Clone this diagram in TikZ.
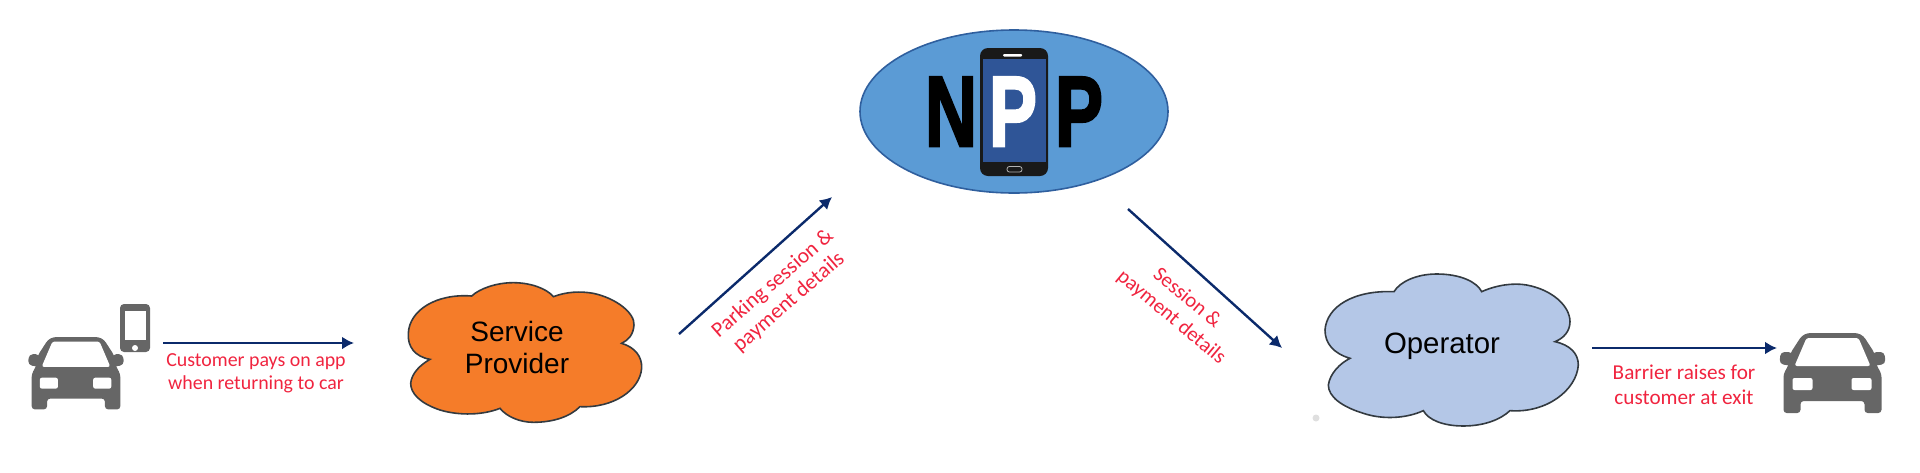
\documentclass[tikz,border=0pt]{standalone}
\usepackage{fontspec}
\setmainfont{Liberation Sans}
\newfontfamily\redfont{Carlito}
\newfontfamily\logofont[FakeBold=2.5]{Liberation Sans Bold}
\usetikzlibrary{arrows.meta,shapes.geometric}
\definecolor{navy}{HTML}{0B2A6B}
\definecolor{redtxt}{HTML}{F0243F}
\definecolor{cargray}{HTML}{666666}
\definecolor{ellfill}{HTML}{5B9BD5}
\definecolor{ellline}{HTML}{2F5F9E}
\definecolor{screenblue}{HTML}{2F5597}
\definecolor{orangefill}{HTML}{F57C29}
\definecolor{opfill}{HTML}{B4C7E7}
\definecolor{cloudline}{HTML}{333A40}
\tikzset{
  flow/.style={draw=navy,line width=1.2pt,-{Latex[length=6pt,width=6.5pt]}},
  redlabel/.style={text=redtxt,align=center,inner sep=0pt},
  cloudlabel/.style={text=black,align=center,inner sep=0pt},
  cloudedge/.style={draw=cloudline,line width=.8pt},
  logoletter/.style={inner sep=0pt,anchor=base,font=\logofont\fontsize{50}{52}\selectfont}
}
\newcommand{\redsize}[2]{\redfont\fontsize{#1}{#2}\selectfont}
\newcommand{\carglyph}[3]{%
  \begin{scope}[shift={(#1,#2)},scale=#3]
    \fill[cargray,rounded corners=1.6pt]
      (-25,0) -- (25,0) -- (31,3) -- (42,20) -- (44,32) -- (49,41) -- (49,80) -- (32,80) -- (32,68)
      -- (-32,68) -- (-32,80) -- (-49,80) -- (-49,41) -- (-44,32) -- (-42,20) -- (-31,3) -- cycle;
    \fill[cargray,rounded corners=2pt] (40,19) -- (52,19) -- (53,31) -- (40,33) -- cycle;
    \fill[cargray,rounded corners=2pt] (-40,19) -- (-52,19) -- (-53,31) -- (-40,33) -- cycle;
    \fill[white,rounded corners=1.2pt] (-26,5) -- (26,5) -- (38,33) -- (-38,33) -- cycle;
    \fill[white,rounded corners=1pt] (-40,45) rectangle (-20,57) (19,45) rectangle (39,57);
  \end{scope}}
\begin{document}
\begin{tikzpicture}[x=0.5pt,y=-0.5pt]
\useasboundingbox (0,0) rectangle (1920,472);
% left car and phone
\carglyph{76}{337}{0.905}
\fill[cargray,rounded corners=2pt] (120,304) rectangle (150,352);
\fill[white] (124.5,311) rectangle (146,340);
\fill[white] (135,348) circle[radius=3];
\coordinate (a1s) at (163,343);
\coordinate (a1e) at (354,343);
\draw[flow] (a1s) -- (a1e);
\node[redlabel,font=\redsize{9.95}{11.6}] (l1) at (256,373) {Customer pays on app\\when returning to car};
% service provider
\begin{scope}[shift={(380,260)},scale=0.3333]
  \path[fill=orangefill,cloudedge] (275,108)
    .. controls (300,85) and (350,68) .. (400,68)
    .. controls (450,68) and (500,85) .. (520,110)
    .. controls (560,95) and (600,93) .. (640,100)
    .. controls (710,115) and (765,160) .. (762,195)
    .. controls (760,225) and (745,240) .. (725,250)
    .. controls (765,262) and (787,290) .. (785,325)
    .. controls (780,390) and (700,445) .. (600,440)
    .. controls (570,470) and (520,487) .. (460,487)
    .. controls (420,487) and (380,470) .. (360,445)
    .. controls (310,465) and (240,468) .. (180,450)
    .. controls (120,430) and (92,400) .. (92,370)
    .. controls (95,340) and (120,315) .. (150,298)
    .. controls (105,290) and (82,260) .. (85,220)
    .. controls (88,150) and (170,100) .. (275,108) -- cycle;
\end{scope}
\node[cloudlabel,font=\fontsize{14}{16}\selectfont] (sp) at (517,347) {Service\\Provider};
\coordinate (a2s) at (679,334);
\coordinate (a2e) at (832,197);
\draw[flow] (a2s) -- (a2e);
\node[redlabel,rotate=41,font=\redsize{10.8}{12.2}] (l2) at (781,293) {Parking session \&\\payment details};
% NPP
\node[draw=ellline,fill=ellfill,line width=.8pt,ellipse,minimum width=154pt,minimum height=81.5pt,inner sep=0pt] (npp) at (1014,111.5) {};
\node[logoletter] (n1) at (951,146) {\scalebox{.72}[1]{N}};
\fill[black!90,rounded corners=4pt] (980,48) rectangle (1048,176);
\fill[screenblue] (983,59) rectangle (1046,162);
\fill[white,rounded corners=.5pt] (1003,54) rectangle (1022,56.5);
\draw[white!70!black,line width=.4pt,rounded corners=1.2pt] (1007,166.5) rectangle (1022,172);
\node[logoletter,text=white] (p1) at (1013,146) {\scalebox{.72}[1]{P}};
\node[logoletter] (p2) at (1079,146) {\scalebox{.72}[1]{P}};
\coordinate (a3s) at (1128,209);
\coordinate (a3e) at (1282,348);
\draw[flow] (a3s) -- (a3e);
\node[redlabel,rotate=-40,font=\redsize{10.4}{12.2}] (l3) at (1179,308) {Session \&\\payment details};
% operator
\begin{scope}[shift={(1300,250)},scale=0.3333]
  \path[fill=opfill,cloudedge] (282,125)
    .. controls (300,95) and (350,72) .. (410,72)
    .. controls (480,72) and (530,95) .. (545,125)
    .. controls (590,105) and (640,98) .. (680,105)
    .. controls (760,120) and (810,170) .. (810,215)
    .. controls (810,245) and (790,265) .. (765,275)
    .. controls (810,285) and (835,310) .. (835,345)
    .. controls (830,420) and (740,490) .. (630,482)
    .. controls (600,510) and (550,528) .. (490,528)
    .. controls (430,528) and (385,510) .. (370,482)
    .. controls (320,505) and (250,510) .. (190,490)
    .. controls (125,470) and (85,440) .. (85,405)
    .. controls (90,370) and (120,340) .. (150,325)
    .. controls (100,310) and (75,280) .. (75,240)
    .. controls (80,170) and (160,120) .. (282,125) -- cycle;
\end{scope}
\node[cloudlabel,font=\fontsize{14.7}{17}\selectfont] (op) at (1442,346) {Operator};
\fill[gray!25] (1316,418) circle[radius=3.5];
\coordinate (a4s) at (1592,348);
\coordinate (a4e) at (1777,348);
\draw[flow] (a4s) -- (a4e);
\node[redlabel,font=\redsize{10.6}{12.5}] (l4) at (1684,385) {Barrier raises for\\customer at exit};
\carglyph{1832.5}{333}{1}
\end{tikzpicture}
\end{document}
